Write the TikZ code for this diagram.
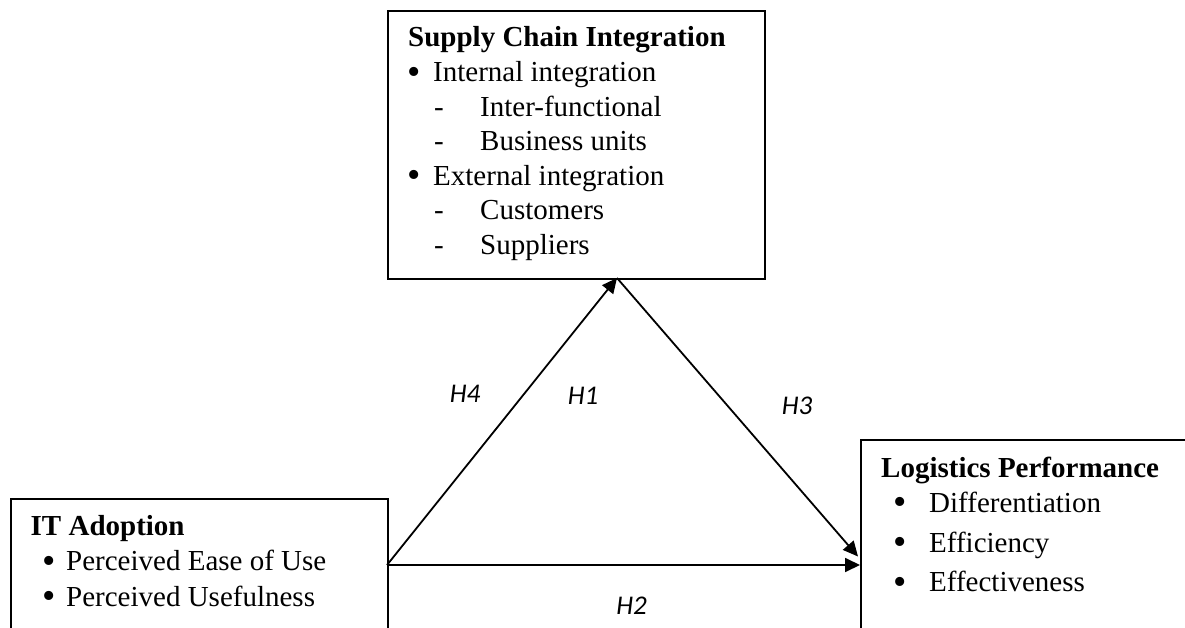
\documentclass[tikz,border=0pt]{standalone}
\usepackage{fontspec}
\setmainfont{Liberation Serif}
\newfontfamily\lblfont{Carlito}
\usetikzlibrary{arrows.meta}
\begin{document}
\begin{tikzpicture}[x=1pt,y=-1pt,
  box/.style={draw, line width=1.8pt, inner sep=0pt, anchor=north west},
  txt/.style={anchor=base west, inner sep=0pt, font=\fontsize{29}{35}\selectfont},
  bul/.style={anchor=base west, inner sep=0pt, font=\fontsize{38}{40}\selectfont},
  ttl/.style={anchor=base west, inner sep=0pt, font=\fontsize{29}{35}\selectfont\bfseries},
  hyp/.style={inner sep=0pt, font=\lblfont\itshape\fontsize{27}{32}\selectfont},
  arr/.style={line width=1.8pt, -{Triangle[length=15pt,width=14pt]}}]
\clip (0,0) rectangle (1185,628);
\fill[white] (0,0) rectangle (1185,628);

% boxes
\node[box, minimum width=377pt, minimum height=160pt] (itbox) at (10,498) {};
\node[box, minimum width=377pt, minimum height=267.5pt] (scibox) at (387,10.5) {};
\node[box, minimum width=360pt, minimum height=220pt] (lpbox) at (860,439) {};

% IT Adoption
\node[ttl] (itT) at (30.5,535) {IT Adoption};
\node[bul] (itb1) at (42.4,573) {•};
\node[txt] (it1) at (66,570.7) {Perceived Ease of Use};
\node[bul] (itb2) at (42.4,608.8) {•};
\node[txt] (it2) at (66,606.5) {Perceived Usefulness};

% Supply Chain Integration
\node[ttl] (sciT) at (408,47) {Supply Chain Integration};
\node[bul] (scib1) at (407.4,84.3) {•};
\node[txt] (sci1) at (433,82) {Internal integration};
\node[txt] (scid1) at (434,116.5) {-};
\node[txt] (sci2) at (480,116.5) {Inter-functional};
\node[txt] (scid2) at (434,151) {-};
\node[txt] (sci3) at (480,151) {Business units};
\node[bul] (scib2) at (407.4,187.8) {•};
\node[txt] (sci4) at (433,185.5) {External integration};
\node[txt] (scid3) at (434,220) {-};
\node[txt] (sci5) at (480,220) {Customers};
\node[txt] (scid4) at (434,254.5) {-};
\node[txt] (sci6) at (480,254.5) {Suppliers};

% Logistics Performance
\node[ttl] (lpT) at (881,477.3) {Logistics Performance};
\node[bul] (lpb1) at (893,514.6) {•};
\node[txt] (lp1) at (929,512.3) {Differentiation};
\node[bul] (lpb2) at (893,554.6) {•};
\node[txt] (lp2) at (929,552.3) {Efficiency};
\node[bul] (lpb3) at (893,594) {•};
\node[txt] (lp3) at (929,591.7) {Effectiveness};

% connector end points
\coordinate (itR) at (387,565);
\coordinate (apex) at (617,278);
\coordinate (lpA) at (860,565);
\coordinate (lpB) at (858,556.5);

\draw[arr] (itR) -- (apex);
\draw[arr] (apex) -- (lpB);
\draw[arr] (itR) -- (lpA);

% hypothesis labels
\node[hyp] (h4) at (465,394) {H4};
\node[hyp] (h1) at (583,395.5) {H1};
\node[hyp] (h3) at (797,405.5) {H3};
\node[hyp] (h2) at (631.5,605.5) {H2};
\end{tikzpicture}
\end{document}
